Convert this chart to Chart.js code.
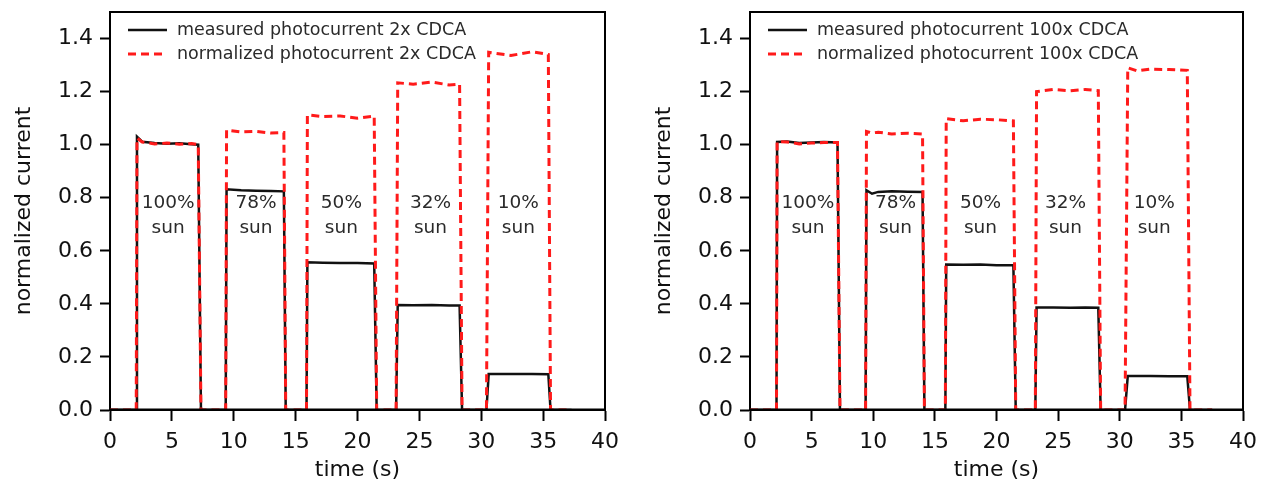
<!DOCTYPE html>
<html>
<head>
<meta charset="utf-8">
<script src="https://cdn.jsdelivr.net/npm/chart.js@4/dist/chart.umd.min.js"></script>
<style>
  html, body { margin: 0; padding: 0; background: #fff; }
  .panel { position: absolute; top: 0; width: 631px; height: 484px; }
  #left { left: 0; }
  #right { left: 631px; }
</style>
</head>
<body>
<div class="panel" id="left"><canvas id="c2x"></canvas></div>
<div class="panel" id="right"><canvas id="c100x"></canvas></div>
<script>
// Illumination steps (fraction of one sun) marked on each pulse
const sunLabels = ['100%', '78%', '50%', '32%', '10%'];

// Axis ticks
const timeTicks = [0, 5, 10, 15, 20, 25, 30, 35, 40];
const currentTicks = [0, 0.2, 0.4, 0.6, 0.8, 1.0, 1.2, 1.4];

// 2x CDCA cell: time (s), measured and normalized photocurrent
const time2x = [0, 2.12, 2.18, 2.6, 3.6, 4.6, 5.6, 6.6, 7.13, 7.35,
  9.35, 9.42, 10.6, 11.8, 13.0, 14.05, 14.2,
  15.88, 15.95, 17.2, 18.6, 20.0, 21.35, 21.55,
  23.12, 23.25, 24.5, 26.0, 27.4, 28.25, 28.45,
  30.42, 30.6, 32.4, 34.1, 35.42, 35.6, 37.3];
const measured2x = [0, 0, 1.03, 1.011, 1.006, 1.003, 1.005, 1.002, 1.0, 0,
  0, 0.832, 0.828, 0.826, 0.825, 0.824, 0,
  0, 0.557, 0.555, 0.554, 0.554, 0.552, 0,
  0, 0.396, 0.395, 0.396, 0.394, 0.394, 0,
  0, 0.136, 0.136, 0.136, 0.135, 0, 0];
const normalized2x = [0, 0, 1.025, 1.01, 1.003, 1.006, 1.002, 1.004, 1.0, 0,
  0, 1.055, 1.048, 1.05, 1.044, 1.046, 0,
  0, 1.112, 1.106, 1.108, 1.1, 1.108, 0,
  0, 1.233, 1.228, 1.236, 1.225, 1.228, 0,
  0, 1.348, 1.336, 1.35, 1.34, 0, 0];

// 100x CDCA cell: time (s), measured and normalized photocurrent
const time100x = [0, 2.15, 2.2, 3.0, 4.0, 5.0, 6.0, 7.1, 7.3,
  9.38, 9.45, 9.9, 10.4, 11.5, 12.8, 14.0, 14.15,
  15.85, 15.92, 17.3, 18.7, 20.0, 21.37, 21.56,
  23.15, 23.25, 24.6, 26.0, 27.2, 28.26, 28.45,
  30.43, 30.65, 31.4, 32.5, 34.0, 35.48, 35.7, 37.5];
const measured100x = [0, 0, 1.01, 1.012, 1.006, 1.008, 1.01, 1.008, 0,
  0, 0.828, 0.815, 0.822, 0.824, 0.823, 0.822, 0,
  0, 0.548, 0.547, 0.548, 0.546, 0.546, 0,
  0, 0.386, 0.386, 0.385, 0.386, 0.385, 0,
  0, 0.128, 0.128, 0.128, 0.127, 0.127, 0, 0];
const normalized100x = [0, 0, 1.012, 1.01, 1.003, 1.006, 1.008, 1.008, 0,
  0, 1.05, 1.044, 1.047, 1.04, 1.043, 1.04, 0,
  0, 1.098, 1.09, 1.096, 1.094, 1.09, 0,
  0, 1.2, 1.208, 1.203, 1.208, 1.204, 0,
  0, 1.29, 1.278, 1.285, 1.283, 1.28, 0, 0];

const FONT = '"DejaVu Sans", Verdana, sans-serif';
const TEXT_GREY = '#2a2a2a';

const toPoints = (xs, ys) => xs.map((x, i) => ({ x: x, y: ys[i] }));

// Draws the plot box on top of the traces (the zero baseline sits under the axis)
const framePlugin = {
  id: 'frame',
  afterDraw(chart) {
    const { ctx, chartArea: a } = chart;
    ctx.save();
    ctx.strokeStyle = '#000';
    ctx.lineWidth = 2;
    ctx.beginPath();
    ctx.moveTo(a.left, a.top);
    ctx.lineTo(a.right, a.top);
    ctx.lineTo(a.right, a.bottom);
    ctx.stroke();
    ctx.lineWidth = 2.5;
    ctx.beginPath();
    ctx.moveTo(a.left, a.bottom - 0.25);
    ctx.lineTo(a.right, a.bottom - 0.25);
    ctx.stroke();
    ctx.restore();
  }
};

// "xx% sun" captions inside each pulse, anchored in data coordinates
const sunCaptionPlugin = {
  id: 'sunCaptions',
  afterDatasetsDraw(chart, args, opts) {
    const { ctx, scales } = chart;
    ctx.save();
    ctx.font = '18.5px ' + FONT;
    ctx.fillStyle = TEXT_GREY;
    ctx.textAlign = 'center';
    ctx.textBaseline = 'middle';
    opts.labels.forEach((lab, i) => {
      const px = scales.x.getPixelForValue(opts.at[i]);
      ctx.fillText(lab, px, scales.y.getPixelForValue(opts.line1));
      ctx.fillText('sun', px, scales.y.getPixelForValue(opts.line2));
    });
    ctx.restore();
  }
};

// Legend drawn inside the upper-left corner of the plot box
const insideLegendPlugin = {
  id: 'insideLegend',
  afterDraw(chart, args, opts) {
    const { ctx, chartArea: a } = chart;
    ctx.save();
    ctx.font = '17.5px ' + FONT;
    ctx.textBaseline = 'middle';
    ctx.textAlign = 'left';
    opts.order.forEach((dsIndex, row) => {
      const ds = chart.data.datasets[dsIndex];
      const y = a.top + opts.firstRow + row * opts.rowGap;
      const x0 = a.left + opts.sampleStart;
      ctx.strokeStyle = ds.borderColor;
      ctx.lineWidth = ds.borderWidth;
      ctx.setLineDash(ds.borderDash || []);
      ctx.beginPath();
      ctx.moveTo(x0, y);
      ctx.lineTo(x0 + opts.sampleLength, y);
      ctx.stroke();
      ctx.setLineDash([]);
      ctx.fillStyle = TEXT_GREY;
      ctx.fillText(ds.label, x0 + opts.sampleLength + opts.textGap, y);
    });
    ctx.restore();
  }
};

function buildChart(canvasId, tag, times, measured, normalized, captionAt, rightPad, titlePad) {
  return new Chart(document.getElementById(canvasId), {
    type: 'line',
    data: {
      datasets: [
        {
          label: 'normalized photocurrent ' + tag + ' CDCA',
          data: toPoints(times, normalized),
          borderColor: '#ff1a1a',
          borderWidth: 3,
          borderDash: [8, 5],
          pointRadius: 0,
          tension: 0,
          fill: false,
          clip: 0
        },
        {
          label: 'measured photocurrent ' + tag + ' CDCA',
          data: toPoints(times, measured),
          borderColor: '#111',
          borderWidth: 2.5,
          pointRadius: 0,
          tension: 0,
          fill: false,
          clip: 0
        }
      ]
    },
    options: {
      responsive: true,
      maintainAspectRatio: false,
      animation: false,
      events: [],
      layout: { padding: { top: 12, right: rightPad, bottom: 0, left: 0 } },
      plugins: {
        legend: { display: false },
        tooltip: { enabled: false },
        sunCaptions: { labels: sunLabels, at: captionAt, line1: 0.778, line2: 0.686 },
        insideLegend: { order: [1, 0], firstRow: 18, rowGap: 24, sampleStart: 18, sampleLength: 39, textGap: 10 }
      },
      scales: {
        x: {
          type: 'linear',
          min: 0,
          max: 40,
          afterBuildTicks: (axis) => { axis.ticks = timeTicks.map(v => ({ value: v })); },
          afterFit: (s) => { s.height = 74; s.paddingLeft = 0; s.paddingRight = 0; },
          grid: { drawOnChartArea: false, drawTicks: true, tickLength: 11, tickWidth: 2, tickColor: '#000' },
          border: { display: true, color: '#000', width: 2 },
          ticks: { color: '#111', font: { family: FONT, size: 22 }, padding: 8, maxRotation: 0, autoSkip: false },
          title: { display: true, text: 'time (s)', color: '#111', font: { family: FONT, size: 22 }, padding: { top: 0, bottom: 1 } }
        },
        y: {
          type: 'linear',
          min: 0,
          max: 1.5,
          afterBuildTicks: (axis) => { axis.ticks = currentTicks.map(v => ({ value: v })); },
          afterFit: (s) => { s.width = 110 + (titlePad - 11); s.paddingTop = 0; s.paddingBottom = 0; },
          grid: { drawOnChartArea: false, drawTicks: true, tickLength: 10, tickWidth: 2, tickColor: '#000' },
          border: { display: true, color: '#000', width: 2 },
          ticks: { color: '#111', font: { family: FONT, size: 22 }, padding: 7, callback: (v) => Number(v).toFixed(1) },
          title: { display: true, text: 'normalized current', color: '#111', font: { family: FONT, size: 22 }, padding: { top: titlePad, bottom: 0 } }
        }
      }
    },
    plugins: [sunCaptionPlugin, framePlugin, insideLegendPlugin]
  });
}

buildChart('c2x', '2x', time2x, measured2x, normalized2x, [4.7, 11.8, 18.7, 25.9, 33.0], 26, 11);
buildChart('c100x', '100x', time100x, measured100x, normalized100x, [4.7, 11.8, 18.7, 25.6, 32.8], 19, 20);
</script>
</body>
</html>
